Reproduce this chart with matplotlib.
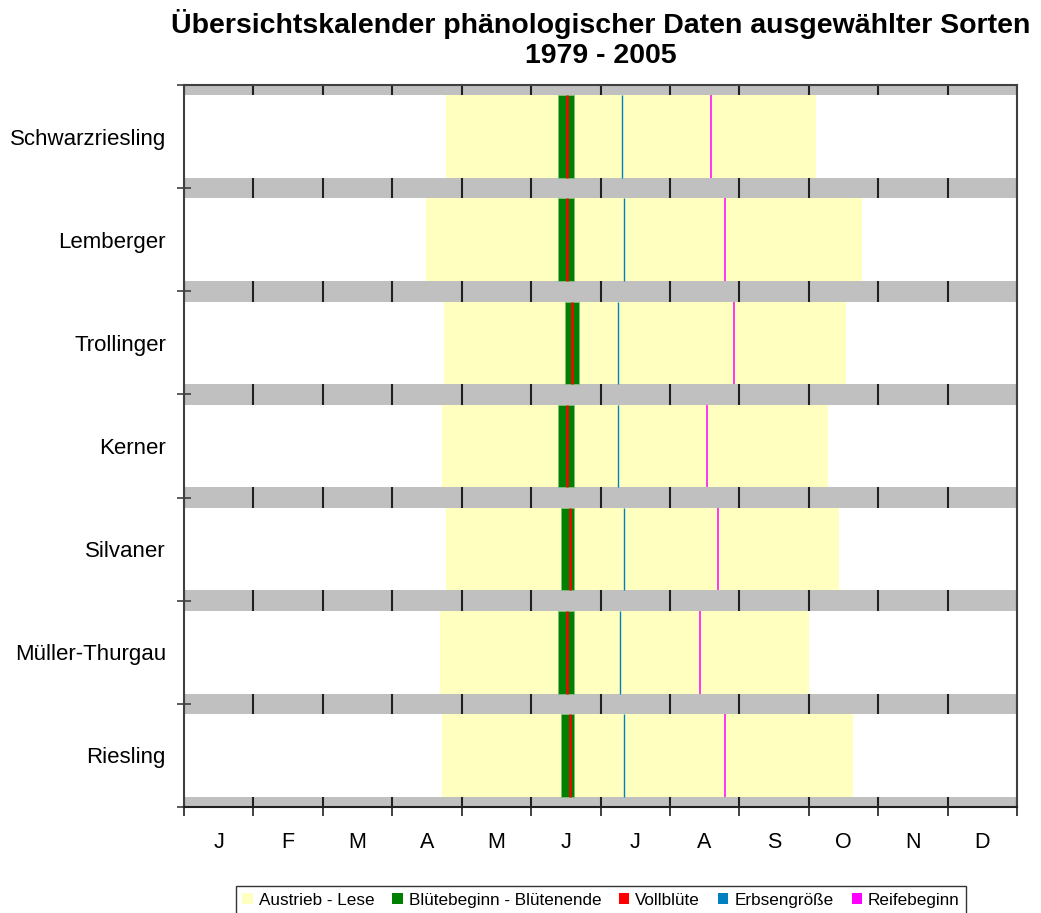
import numpy as np
import matplotlib
matplotlib.use('Agg')
import matplotlib.pyplot as plt
from matplotlib.patches import Patch

plt.rcParams['font.family'] = ['Liberation Sans', 'DejaVu Sans']

# Sorten von oben nach unten, Werte als Tag im Jahr (Mittel 1979-2005)
sorten = ['Schwarzriesling', 'Lemberger', 'Trollinger', 'Kerner',
          'Silvaner', 'Müller-Thurgau', 'Riesling']
austrieb = [115, 106, 114, 113, 115, 112, 113]
lese = [277, 297, 290, 282, 287, 274, 293]
bluete_beginn = [164, 164, 167, 164, 165, 164, 165]
bluete_ende = [171, 171, 173, 171, 171, 171, 171]
vollbluete = [168, 168, 170, 168, 169, 168, 169]
erbsengroesse = [192, 193, 190, 190, 193, 191, 193]
reifebeginn = [231, 237, 241, 229, 234, 226, 237]
monate = ['J', 'F', 'M', 'A', 'M', 'J', 'J', 'A', 'S', 'O', 'N', 'D']

c_gelb = '#FFFFC0'
c_gruen = '#008000'
c_rot = '#FF0000'
c_blau = '#0080C0'
c_magenta = '#FF00FF'

fig = plt.figure(figsize=(10.41, 9.13), dpi=100)
ax = fig.add_axes([184/1041, 1-807/913, (1017-184)/1041, (807-85)/913])

jahr = 365.0
y = np.arange(len(sorten)) + 0.5
h = 0.8
ax.set_facecolor('#C0C0C0')
ax.set_axisbelow(True)

# weisse Zeilen ueber dem grauen Hintergrund
ax.barh(y, jahr, left=0, height=h, color='white', zorder=2)
ax.barh(y, np.subtract(lese, austrieb), left=austrieb, height=h, color=c_gelb, zorder=3)
ax.barh(y, np.subtract(bluete_ende, bluete_beginn), left=bluete_beginn, height=h,
        color=c_gruen, edgecolor='#7FBF7F', linewidth=0.6, zorder=4)
# Einzeltermine als schmale Striche
ax.vlines(vollbluete, y - h/2, y + h/2, color=c_rot, linewidth=1.8, zorder=5)
ax.vlines(erbsengroesse, y - h/2, y + h/2, color=c_blau, linewidth=1.0, zorder=5)
ax.vlines(reifebeginn, y - h/2, y + h/2, color=c_magenta, linewidth=1.1, zorder=5)

ax.set_xlim(0, jahr)
ax.set_ylim(len(sorten), 0)

grenzen = np.linspace(0, jahr, 13)
ax.set_xticks(grenzen)
ax.set_xticklabels([])
ax.set_xticks(grenzen[:-1] + jahr / 24, minor=True)
ax.set_xticklabels(monate, minor=True, fontsize=15.5)
ax.tick_params(axis='x', which='major', direction='out', length=6.5, width=1.2, color='#202020')
ax.tick_params(axis='x', which='minor', length=0, pad=18)
ax.xaxis.grid(True, which='major', color='#202020', linewidth=1.5, zorder=1)

ax.set_yticks(np.arange(len(sorten) + 1))
ax.set_yticklabels([])
ax.set_yticks(y, minor=True)
ax.set_yticklabels(sorten, minor=True, fontsize=16)
ax.tick_params(axis='y', which='major', direction='inout', length=9.5, width=1.2, color='#404040')
ax.tick_params(axis='y', which='minor', length=0, pad=13)

for s in ax.spines.values():
    s.set_color('#404040')
    s.set_linewidth(1.5)
ax.spines['bottom'].set_color('#202020')

ax.set_title('Übersichtskalender phänologischer Daten ausgewählter Sorten\n1979 - 2005',
             fontsize=20.5, fontweight='bold', pad=15.5, linespacing=1.22)

handles = [Patch(facecolor=c_gelb, label='Austrieb - Lese'),
           Patch(facecolor=c_gruen, label='Blütebeginn - Blütenende'),
           Patch(facecolor=c_rot, label='Vollblüte'),
           Patch(facecolor=c_blau, label='Erbsengröße'),
           Patch(facecolor=c_magenta, label='Reifebeginn')]
leg = fig.legend(handles=handles, loc='upper center', bbox_to_anchor=(601/1041, 1-886/913),
                 ncol=5, fontsize=12.3, frameon=True, fancybox=False, borderaxespad=0,
                 handlelength=0.6, handleheight=0.6, handletextpad=0.35,
                 columnspacing=1.05, borderpad=0.4)
leg.get_frame().set_edgecolor('black')
leg.get_frame().set_linewidth(1.0)

fig.savefig('out.png', dpi=100)
